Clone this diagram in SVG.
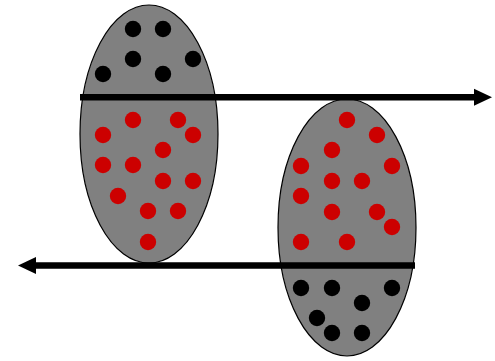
<svg xmlns="http://www.w3.org/2000/svg" width="495" height="361" viewBox="0 0 495 361">
  <style>
    .cell { fill: #808080; stroke: #000; stroke-width: 1.2; }
    .b { fill: #000; }
    .r { fill: #CC0000; }
    .arrow { stroke: #000; stroke-width: 6.5; fill: none; }
  </style>
  <defs>
    <marker id="head" markerUnits="userSpaceOnUse" markerWidth="18" markerHeight="17" refX="0" refY="8.5" orient="auto" overflow="visible">
      <path d="M0,0 L18,8.5 L0,17 Z" fill="#000"/>
    </marker>
  </defs>
  <g id="cell-left">
    <ellipse class="cell" cx="149" cy="134" rx="69" ry="129"/>
    <g class="b">
      <circle cx="133" cy="29" r="8.2"/>
      <circle cx="163" cy="29" r="8.2"/>
      <circle cx="133" cy="59" r="8.2"/>
      <circle cx="193" cy="59" r="8.2"/>
      <circle cx="103" cy="74" r="8.2"/>
      <circle cx="163" cy="74" r="8.2"/>
    </g>
    <g class="r">
      <circle cx="133" cy="120" r="8.2"/>
      <circle cx="178" cy="120" r="8.2"/>
      <circle cx="103" cy="135" r="8.2"/>
      <circle cx="193" cy="135" r="8.2"/>
      <circle cx="163" cy="150" r="8.2"/>
      <circle cx="103" cy="165" r="8.2"/>
      <circle cx="133" cy="165" r="8.2"/>
      <circle cx="163" cy="181" r="8.2"/>
      <circle cx="193" cy="181" r="8.2"/>
      <circle cx="118" cy="196" r="8.2"/>
      <circle cx="148" cy="211" r="8.2"/>
      <circle cx="178" cy="211" r="8.2"/>
      <circle cx="148" cy="242" r="8.2"/>
    </g>
  </g>
  <g id="cell-right">
    <ellipse class="cell" cx="347" cy="227.5" rx="69" ry="128.5"/>
    <g class="r">
      <circle cx="347" cy="120" r="8.2"/>
      <circle cx="377" cy="135" r="8.2"/>
      <circle cx="332" cy="150" r="8.2"/>
      <circle cx="301" cy="166" r="8.2"/>
      <circle cx="392" cy="166" r="8.2"/>
      <circle cx="332" cy="181" r="8.2"/>
      <circle cx="362" cy="181" r="8.2"/>
      <circle cx="301" cy="196" r="8.2"/>
      <circle cx="332" cy="212" r="8.2"/>
      <circle cx="377" cy="212" r="8.2"/>
      <circle cx="392" cy="227" r="8.2"/>
      <circle cx="301" cy="242" r="8.2"/>
      <circle cx="347" cy="242" r="8.2"/>
    </g>
    <g class="b">
      <circle cx="301" cy="288" r="8.2"/>
      <circle cx="332" cy="288" r="8.2"/>
      <circle cx="392" cy="288" r="8.2"/>
      <circle cx="362" cy="303" r="8.2"/>
      <circle cx="317" cy="318" r="8.2"/>
      <circle cx="332" cy="333" r="8.2"/>
      <circle cx="362" cy="333" r="8.2"/>
    </g>
  </g>
  <g id="connectors">
    <line class="arrow" x1="80" y1="97.3" x2="474" y2="97.3" marker-end="url(#head)"/>
    <line class="arrow" x1="415" y1="265.5" x2="36" y2="265.5" marker-end="url(#head)"/>
  </g>
</svg>
